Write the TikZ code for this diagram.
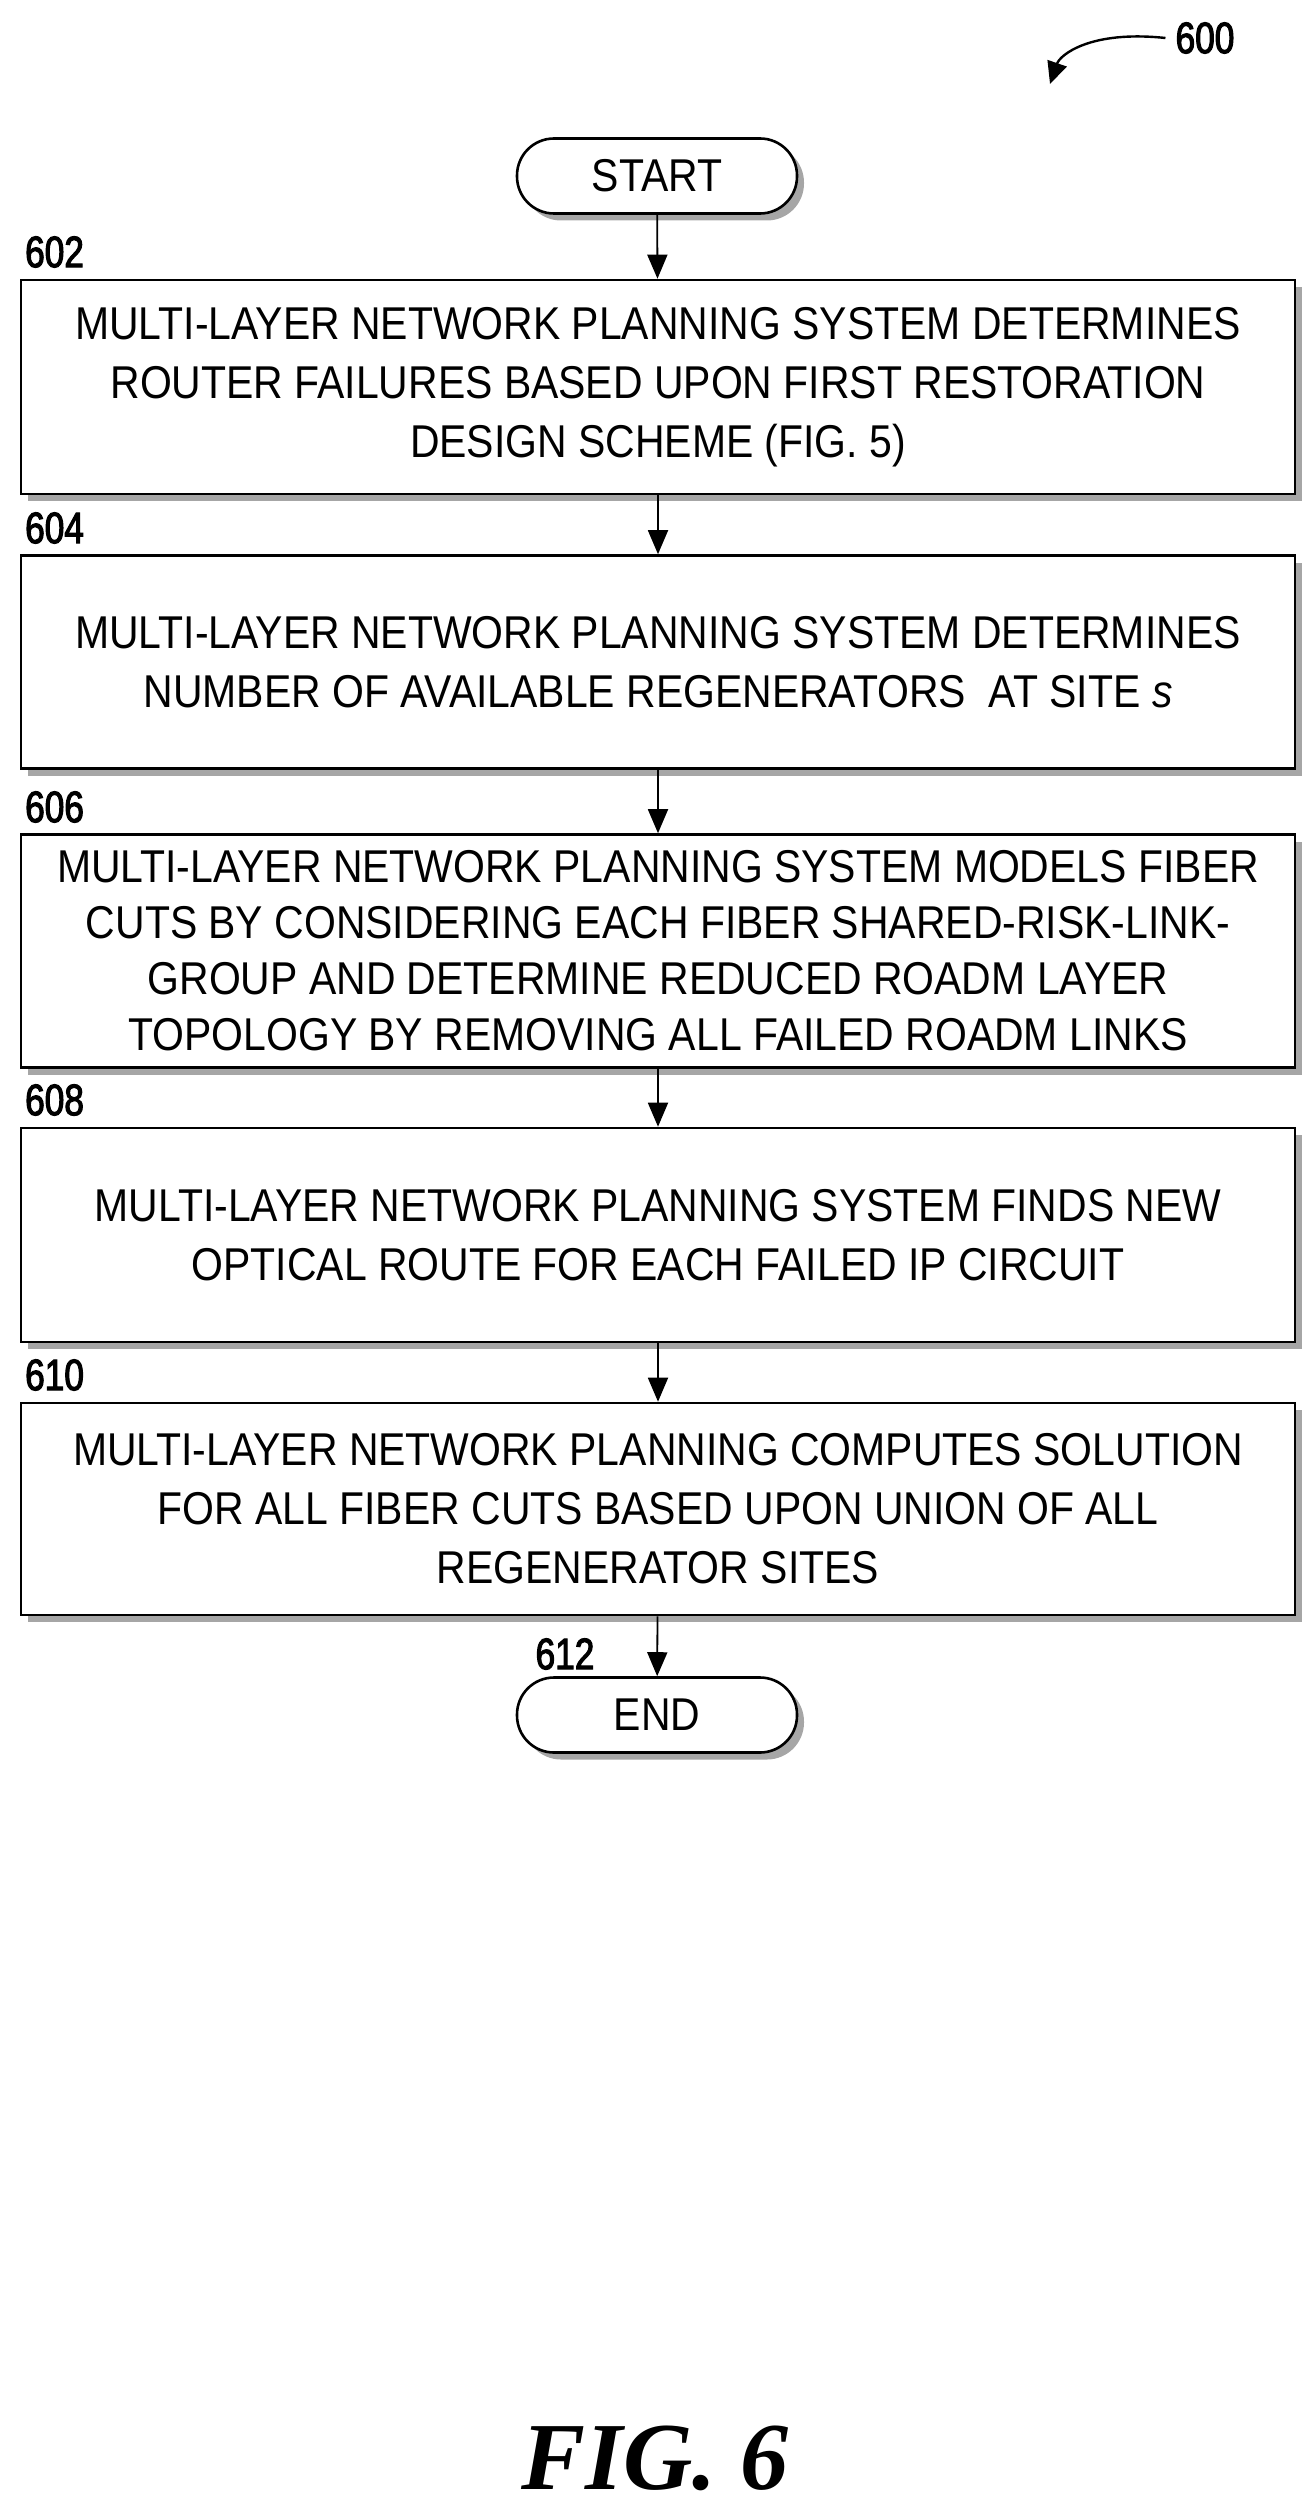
\documentclass[tikz,border=0pt]{standalone}
\usepackage{fontspec}
\setmainfont{Liberation Sans}
\newfontfamily\narrow[FakeStretch=0.89]{Liberation Sans}
\newfontfamily\narrowb[FakeStretch=0.8,FakeBold=2.5]{Liberation Sans}
\usetikzlibrary{arrows.meta,shadows}
\begin{document}
\begin{tikzpicture}[x=1pt,y=-1pt,
  box/.style={draw,line width=2.6pt,fill=white,minimum width=1274pt,align=center,
    font=\narrow\fontsize{46}{59}\selectfont,inner sep=0pt,
    drop shadow={shadow xshift=7pt,shadow yshift=-7pt,fill=gray!70,opacity=1}},
  term/.style={draw,line width=2.6pt,fill=white,rounded corners=37pt,minimum width=280pt,minimum height=75pt,
    font=\narrow\fontsize{46}{52}\selectfont,inner sep=0pt,
    drop shadow={shadow xshift=7pt,shadow yshift=-7pt,fill=gray!70,opacity=1}},
  lbl/.style={font=\narrowb\fontsize{44}{44}\selectfont,inner sep=0pt},
  arr/.style={line width=1.8pt,-{Triangle[width=20pt,length=24pt]}}]
\useasboundingbox (0,0) rectangle (1313,2507);
\node[term] (start) at (657,176) {START};
\node[box,minimum height=214pt] (b602) at (658,387) {MULTI-LAYER NETWORK PLANNING SYSTEM DETERMINES\\ROUTER FAILURES BASED UPON FIRST RESTORATION\\DESIGN SCHEME (FIG. 5)};
\node[box,minimum height=213pt] (b604) at (658,662) {MULTI-LAYER NETWORK PLANNING SYSTEM DETERMINES\\NUMBER OF AVAILABLE REGENERATORS\ \ AT SITE \textit{s}};
\node[box,minimum height=233pt,font=\narrow\fontsize{46}{56}\selectfont] (b606) at (658,951) {MULTI-LAYER NETWORK PLANNING SYSTEM MODELS FIBER\\CUTS BY CONSIDERING EACH FIBER SHARED-RISK-LINK-\\GROUP AND DETERMINE REDUCED ROADM LAYER\\TOPOLOGY BY REMOVING ALL FAILED ROADM LINKS};
\node[box,minimum height=214pt] (b608) at (658,1235) {MULTI-LAYER NETWORK PLANNING SYSTEM FINDS NEW\\OPTICAL ROUTE FOR EACH FAILED IP CIRCUIT};
\node[box,minimum height=212pt] (b610) at (658,1509) {MULTI-LAYER NETWORK PLANNING COMPUTES SOLUTION\\FOR ALL FIBER CUTS BASED UPON UNION OF ALL\\REGENERATOR SITES};
\node[term] (end) at (657,1715) {END};
\node[lbl,anchor=west] (l602) at (25,252) {602};
\node[lbl,anchor=west] (l604) at (25,528) {604};
\node[lbl,anchor=west] (l606) at (25,807) {606};
\node[lbl,anchor=west] (l608) at (25,1100) {608};
\node[lbl,anchor=west] (l610) at (25,1375) {610};
\node[lbl] (l612) at (565,1654) {612};
\node[lbl] (l600) at (1205,38) {600};
\coordinate (c600) at (1050,84);
\draw[line width=2.4pt,-{Triangle[width=20pt,length=22pt]}] (l600.west) ++(-10,0) .. controls (1090,30) and (1060,55) .. (c600);
\draw[arr] (start) -- (b602);
\draw[arr] (b602) -- (b604);
\draw[arr] (b604) -- (b606);
\draw[arr] (b606) -- (b608);
\draw[arr] (b608) -- (b610);
\draw[arr] (b610) -- (end);
\node[font=\fontspec{Liberation Serif}\bfseries\itshape\fontsize{96}{96}\selectfont] (fig) at (655,2458) {FIG. 6};
\end{tikzpicture}
\end{document}
